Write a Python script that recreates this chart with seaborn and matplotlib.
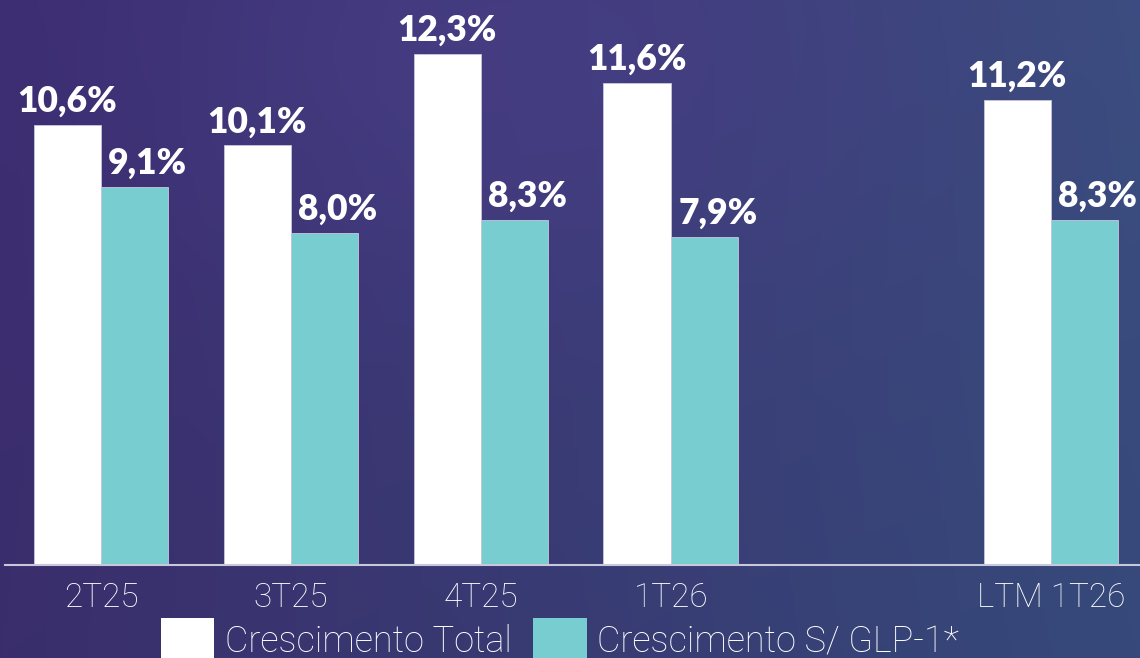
import numpy as np
import pandas as pd
import matplotlib
matplotlib.use("Agg")
import matplotlib.pyplot as plt
import seaborn as sns
from matplotlib.colors import to_rgb
from matplotlib.patches import Patch

# ---- data ----
categories = ["2T25", "3T25", "4T25", "1T26", "LTM 1T26"]
total_growth = [10.6, 10.1, 12.3, 11.6, 11.2]
growth_ex_glp1 = [9.1, 8.0, 8.3, 7.9, 8.3]
series_names = ["Crescimento Total", "Crescimento S/ GLP-1*"]

order = ["2T25", "3T25", "4T25", "1T26", " ", "LTM 1T26"]

df = pd.DataFrame({
    "cat": categories * 2,
    "val": total_growth + growth_ex_glp1,
    "serie": [series_names[0]] * len(categories) + [series_names[1]] * len(categories),
})

sns.set_theme(style="white")
W, H = 1140, 658
fig = plt.figure(figsize=(W / 100, H / 100), dpi=100)

# background gradient
bg = fig.add_axes([0, 0, 1, 1], zorder=-10)
ny, nx = 200, 300
yy, xx = np.mgrid[0:1:ny * 1j, 0:1:nx * 1j]
tl, tr = np.array(to_rgb("#3d2c72")), np.array(to_rgb("#3c4d80"))
bl, br = np.array(to_rgb("#3a2e6c")), np.array(to_rgb("#36497a"))
img = (tl[None, None] * ((1 - xx) * (1 - yy))[..., None] + tr[None, None] * (xx * (1 - yy))[..., None]
       + bl[None, None] * ((1 - xx) * yy)[..., None] + br[None, None] * (xx * yy)[..., None])
glow = np.exp(-(((xx - 0.45) / 0.3) ** 2 + ((yy - 0.1) / 0.35) ** 2))
img = img + glow[..., None] * (np.array(to_rgb("#4a3d88")) - img) * 0.6
bg.imshow(np.clip(img, 0, 1), aspect="auto", extent=[0, 1, 0, 1], origin="upper")
bg.axis("off")

ax = fig.add_axes([5 / W, 93 / H, 1 - 5 / W, 565 / H])
ax.set_facecolor("none")
sns.barplot(data=df, x="cat", y="val", hue="serie", order=order, hue_order=series_names,
            palette=["#ffffff", "#77cdd0"], width=0.71, dodge=True, ax=ax,
            edgecolor="#c9c6dc", linewidth=0.6, legend=False, saturation=1)

pad = 5
for i, (cont, vals) in enumerate(zip(ax.containers, [total_growth, growth_ex_glp1])):
    labels = [f"{v:.1f}%".replace(".", ",") for v in vals]
    anns = ax.bar_label(cont, labels=labels, padding=pad, color="white", fontsize=25.5,
                        fontweight="heavy", family=["Lato", "DejaVu Sans"])
    if i == 1:
        for a in anns:
            a.xyann = (9.5, pad)

ax.set_xlim(-0.505, -0.505 + 1135 / 190)
ax.set_ylim(0, 13.6)
ax.set_xlabel("")
ax.set_ylabel("")
ax.set_yticks([])
for s in ["top", "right", "left"]:
    ax.spines[s].set_visible(False)
ax.spines["bottom"].set_color("#c8c8dc")
ax.spines["bottom"].set_linewidth(1.5)
ax.tick_params(axis="x", length=0, pad=12, colors="white", labelsize=24)
for t in ax.get_xticklabels():
    t.set_family(["Roboto", "DejaVu Sans"])
    t.set_fontweight("light")

handles = [Patch(facecolor="#ffffff", edgecolor="none"), Patch(facecolor="#77cdd0", edgecolor="none")]
leg = fig.legend(handles, series_names, loc="center", bbox_to_anchor=(560 / W, 18 / H), ncol=2,
                 frameon=False, handlelength=1.47, handleheight=1.47, handletextpad=0.3,
                 columnspacing=0.61, borderpad=0, borderaxespad=0,
                 prop={"family": ["Roboto", "DejaVu Sans"], "weight": "light", "size": 26})
for t in leg.get_texts():
    t.set_color("white")

fig.savefig("out.png", dpi=100)
